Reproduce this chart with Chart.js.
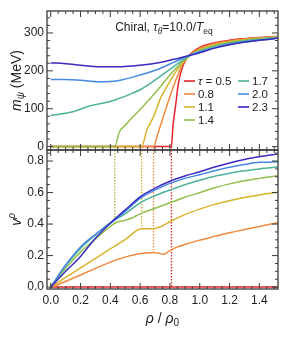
<!DOCTYPE html>
<html>
<head>
<meta charset="utf-8">
<script src="https://cdn.jsdelivr.net/npm/chart.js@4.4.0/dist/chart.umd.min.js"></script>
<style>
  html, body { margin: 0; padding: 0; background: #fff; }
  #wrap { width: 291px; height: 337px; }
</style>
</head>
<body>
<div id="wrap"><canvas id="chart" width="291" height="337"></canvas></div>
<script>
// --- data ---
const tauLabels = ['0.5', '0.8', '1.1', '1.4', '1.7', '2.0', '2.3'];
const tauColors = ['#e3262b', '#f0883c', '#d8b32a', '#92c04e', '#4fb29b', '#4689e2', '#3b2ac2'];

// top panel: m_psi (MeV) vs rho/rho0
const m05x = [0, 0.81, 0.82, 0.84, 0.855, 0.878, 0.91, 0.95, 1.0, 1.1, 1.2, 1.3, 1.4, 1.53];
const m05y = [0, 0, 53, 115, 163, 203, 231, 249, 262, 274, 281, 285, 288, 291];
const m08x = [0, 0.69, 0.72, 0.756, 0.8, 0.845, 0.89, 0.935, 1.0, 1.1, 1.2, 1.3, 1.4, 1.53];
const m08y = [0, 0, 36, 79, 132, 181, 221, 242, 259, 272, 279, 284, 287, 290];
const m11x = [0, 0.61, 0.645, 0.69, 0.733, 0.8, 0.866, 0.935, 1.0, 1.1, 1.2, 1.3, 1.4, 1.53];
const m11y = [0, 0, 44, 79, 124, 172, 212, 241, 256, 269, 277, 282, 286, 289];
const m14x = [0, 0.43, 0.46, 0.5, 0.55, 0.6, 0.666, 0.733, 0.8, 0.866, 0.935, 1.0, 1.1, 1.2, 1.3, 1.4, 1.53];
const m14y = [0, 0, 38, 56, 78, 98, 126, 157, 189, 217, 241, 254, 267, 275, 281, 285, 289];
const m17x = [0, 0.05, 0.15, 0.26, 0.4, 0.465, 0.53, 0.6, 0.666, 0.733, 0.8, 0.866, 0.935, 1.0, 1.1, 1.2, 1.3, 1.4, 1.53];
const m17y = [83, 85, 92, 107, 119, 128, 138, 150, 166, 185, 204, 223, 241, 252, 264, 273, 279, 283, 288];
const m2x = [0, 0.1, 0.2, 0.33, 0.45, 0.6, 0.733, 0.8, 0.866, 0.935, 1.0, 1.1, 1.2, 1.3, 1.4, 1.53];
const m20y = [177, 177, 175, 171, 174, 189, 206, 218, 230, 241, 250, 261, 270, 276, 281, 287];
const m23y = [221, 219, 215, 211, 211, 215, 222, 228, 234, 241, 248, 260, 269, 276, 281, 286];

// bottom panel: v^rho vs rho/rho0
const v05x = [0, 1.53];
const v05y = [0, 0];
const v08x = [0, 0.69, 0.72, 0.757, 0.8, 0.85, 0.9, 1.0, 1.1, 1.2, 1.3, 1.4, 1.53];
const v08y = [0, 0.22, 0.216, 0.208, 0.232, 0.255, 0.27, 0.298, 0.322, 0.345, 0.365, 0.385, 0.41];
const v11x = [0, 0.1, 0.2, 0.3, 0.4, 0.5, 0.61, 0.68, 0.74, 0.8, 0.9, 1.0, 1.1, 1.2, 1.3, 1.4, 1.53];
const v11y = [0, 0.062, 0.122, 0.182, 0.242, 0.302, 0.37, 0.37, 0.385, 0.415, 0.46, 0.495, 0.525, 0.548, 0.568, 0.585, 0.603];
const v14x = [0, 0.1, 0.2, 0.3, 0.43, 0.5, 0.55, 0.6, 0.7, 0.8, 0.9, 1.0, 1.1, 1.2, 1.3, 1.4, 1.53];
const v14y = [0, 0.12, 0.222, 0.305, 0.405, 0.425, 0.44, 0.465, 0.5, 0.535, 0.57, 0.6, 0.63, 0.655, 0.675, 0.69, 0.707];
const vRho = [0, 0.1, 0.2, 0.3, 0.4, 0.5, 0.6, 0.7, 0.8, 0.9, 1.0, 1.1, 1.2, 1.3, 1.4, 1.53];
const v17y = [0, 0.135, 0.245, 0.33, 0.41, 0.465, 0.535, 0.58, 0.616, 0.65, 0.678, 0.703, 0.722, 0.738, 0.75, 0.763];
const v20y = [0, 0.14, 0.255, 0.335, 0.405, 0.48, 0.563, 0.615, 0.658, 0.69, 0.713, 0.738, 0.76, 0.778, 0.792, 0.795];
const v23y = [0, 0.1, 0.195, 0.31, 0.405, 0.49, 0.573, 0.628, 0.672, 0.705, 0.732, 0.762, 0.788, 0.81, 0.827, 0.846];

// onset of m_psi for tau = 0.5, 0.8, 1.1, 1.4 (dotted guides)
const onsetRho = [0.81, 0.69, 0.61, 0.43];
const onsetV = [0, 0.22, 0.37, 0.405];

// axes
const xMin = -0.025, xMax = 1.525;
const mMin = -9, mMax = 358;
const vMin = -0.012, vMax = 0.87;
const xMajor = [0, 0.2, 0.4, 0.6, 0.8, 1.0, 1.2, 1.4];
const mMajor = [0, 100, 200, 300];
const vMajor = [0, 0.2, 0.4, 0.6, 0.8];

const FONT = '"Liberation Sans", Arial, Helvetica, sans-serif';

function pts(xs, ys) { return xs.map((x, i) => ({ x: x, y: ys[i] })); }

const topSeries = [[m05x, m05y], [m08x, m08y], [m11x, m11y], [m14x, m14y], [m17x, m17y], [m2x, m20y], [m2x, m23y]];
const botSeries = [[v05x, v05y], [v08x, v08y], [v11x, v11y], [v14x, v14y], [vRho, v17y], [vRho, v20y], [vRho, v23y]];

const datasets = [];
topSeries.forEach((s, i) => datasets.push({
  label: tauLabels[i], data: pts(s[0], s[1]), yAxisID: 'ym',
  borderColor: tauColors[i], borderWidth: 1.5, order: 10 - i
}));
botSeries.forEach((s, i) => datasets.push({
  label: tauLabels[i], data: pts(s[0], s[1]), yAxisID: 'yv',
  borderColor: tauColors[i], borderWidth: 1.5, order: 10 - i
}));
onsetRho.forEach((r, i) => {
  const c = tauColors[i];
  datasets.push({ data: [{ x: r, y: 0 }, { x: r, y: mMin }], yAxisID: 'ym', borderColor: c,
    borderWidth: 1.3, borderDash: [1.6, 1.4], tension: 0, cubicInterpolationMode: 'default', order: 20 });
  datasets.push({ data: [{ x: r, y: vMax }, { x: r, y: onsetV[i] }], yAxisID: 'yv', borderColor: c,
    borderWidth: 1.3, borderDash: [1.6, 1.4], tension: 0, cubicInterpolationMode: 'default', order: 20 });
});

function range(a, b, step) {
  const out = [];
  for (let k = 0; a + k * step <= b + 1e-9; k++) out.push(+(a + k * step).toFixed(4));
  return out;
}
const xMinor = range(0, 1.5, 0.05);
const mMinor = range(0, 340, 20);
const vMinor = range(0, 0.85, 0.05);

// rich text: parts = [text, size, italic, dy]
function drawRich(ctx, parts, x, y, align) {
  let w = 0;
  parts.forEach(p => { ctx.font = (p[2] ? 'italic ' : '') + p[1] + 'px ' + FONT; w += ctx.measureText(p[0]).width; });
  let cx = align === 'center' ? x - w / 2 : x;
  parts.forEach(p => {
    ctx.font = (p[2] ? 'italic ' : '') + p[1] + 'px ' + FONT;
    ctx.fillText(p[0], cx, y + (p[3] || 0));
    cx += ctx.measureText(p[0]).width;
  });
}

const framePlugin = {
  id: 'frame',
  afterDatasetsDraw(chart) {
    const ctx = chart.ctx, xs = chart.scales.x;
    const panels = [[chart.scales.ym, mMajor, mMinor], [chart.scales.yv, vMajor, vMinor]];
    ctx.save();
    ctx.strokeStyle = '#3a3a3a';
    const seg = (a, b, c, d) => { ctx.beginPath(); ctx.moveTo(a, b); ctx.lineTo(c, d); ctx.stroke(); };
    panels.forEach(([ys, major, minor]) => {
      const l = xs.left, r = xs.right, t = ys.top, b = ys.bottom;
      ctx.lineWidth = 1;
      xMinor.forEach(v => {
        const len = xMajor.some(m => Math.abs(m - v) < 1e-6) ? 6 : 3;
        const p = xs.getPixelForValue(v);
        seg(p, t, p, t + len); seg(p, b, p, b - len);
      });
      minor.forEach(v => {
        const len = major.some(m => Math.abs(m - v) < 1e-6) ? 6 : 3;
        const p = ys.getPixelForValue(v);
        seg(l, p, l + len, p); seg(r, p, r - len, p);
      });
      ctx.lineWidth = 1.3;
      ctx.strokeRect(l, t, r - l, b - t);
    });
    ctx.restore();
  },
  afterDraw(chart) {
    const ctx = chart.ctx, area = chart.chartArea;
    const ym = chart.scales.ym, yv = chart.scales.yv, xs = chart.scales.x;
    ctx.save();
    ctx.fillStyle = '#222';
    ctx.textBaseline = 'alphabetic';
    // annotation
    drawRich(ctx, [['Chiral, ', 12, false], ['τ', 12, true], ['θ', 8.5, true, 3], ['=10.0/', 12, false],
      ['T', 12, true], ['eq', 8.5, false, 3]], area.left + 117, area.top + 20, 'center');
    // x title
    drawRich(ctx, [['ρ', 14, true], [' / ', 14, false], ['ρ', 14, true], ['0', 10, false, 3]],
      (xs.left + xs.right) / 2, area.bottom + 34, 'center');
    // y titles
    ctx.save();
    ctx.translate(21, (ym.top + ym.bottom) / 2);
    ctx.rotate(-Math.PI / 2);
    drawRich(ctx, [['m', 14, true], ['ψ', 10, true, 3], [' (MeV)', 14, false]], 0, 0, 'center');
    ctx.restore();
    ctx.save();
    ctx.translate(21, (yv.top + yv.bottom) / 2);
    ctx.rotate(-Math.PI / 2);
    drawRich(ctx, [['v', 14, true], ['ρ', 10, true, -6]], 0, 0, 'center');
    ctx.restore();
    // legend, two columns inside the top panel
    const cols = [[0, 1, 2, 3], [4, 5, 6]];
    cols.forEach((col, ci) => {
      const lx = area.left + 137 + ci * 54;
      col.forEach((di, ri) => {
        const ly = area.top + 70 + ri * 13;
        ctx.strokeStyle = tauColors[di];
        ctx.lineWidth = 1.6;
        ctx.beginPath(); ctx.moveTo(lx, ly); ctx.lineTo(lx + 11, ly); ctx.stroke();
        ctx.textBaseline = 'middle';
        if (di === 0) drawRich(ctx, [['τ', 11.5, true], [' = 0.5', 11.5, false]], lx + 14, ly + 0.5, 'left');
        else drawRich(ctx, [[tauLabels[di], 11.5, false]], lx + 14, ly + 0.5, 'left');
      });
    });
    ctx.restore();
  }
};

new Chart(document.getElementById('chart'), {
  type: 'line',
  data: { datasets: datasets },
  options: {
    responsive: false,
    animation: false,
    parsing: true,
    layout: { padding: { top: 11, right: 13, left: 0, bottom: 0 } },
    elements: { point: { radius: 0 }, line: { cubicInterpolationMode: 'monotone', fill: false } },
    plugins: { legend: { display: false }, tooltip: { enabled: false } },
    scales: {
      x: {
        type: 'linear', min: xMin, max: xMax,
        grid: { display: false, drawTicks: false }, border: { display: false },
        afterBuildTicks: s => { s.ticks = xMajor.map(v => ({ value: v })); },
        afterFit: s => { s.height = 48; },
        ticks: { padding: 4, color: '#222', font: { family: FONT, size: 12 }, maxRotation: 0,
          callback: v => v.toFixed(1) }
      },
      yv: {
        type: 'linear', position: 'left', stack: 'panels', stackWeight: 1, min: vMin, max: vMax,
        grid: { display: false, drawTicks: false }, border: { display: false },
        afterBuildTicks: s => { s.ticks = vMajor.map(v => ({ value: v })); },
        afterFit: s => { s.width = 47; },
        ticks: { padding: 3, color: '#222', font: { family: FONT, size: 12 }, callback: v => v.toFixed(1) }
      },
      ym: {
        type: 'linear', position: 'left', stack: 'panels', stackWeight: 1, min: mMin, max: mMax,
        grid: { display: false, drawTicks: false }, border: { display: false },
        afterBuildTicks: s => { s.ticks = mMajor.map(v => ({ value: v })); },
        afterFit: s => { s.width = 47; },
        ticks: { padding: 3, color: '#222', font: { family: FONT, size: 12 }, callback: v => String(v) }
      }
    }
  },
  plugins: [framePlugin]
});
</script>
</body>
</html>
